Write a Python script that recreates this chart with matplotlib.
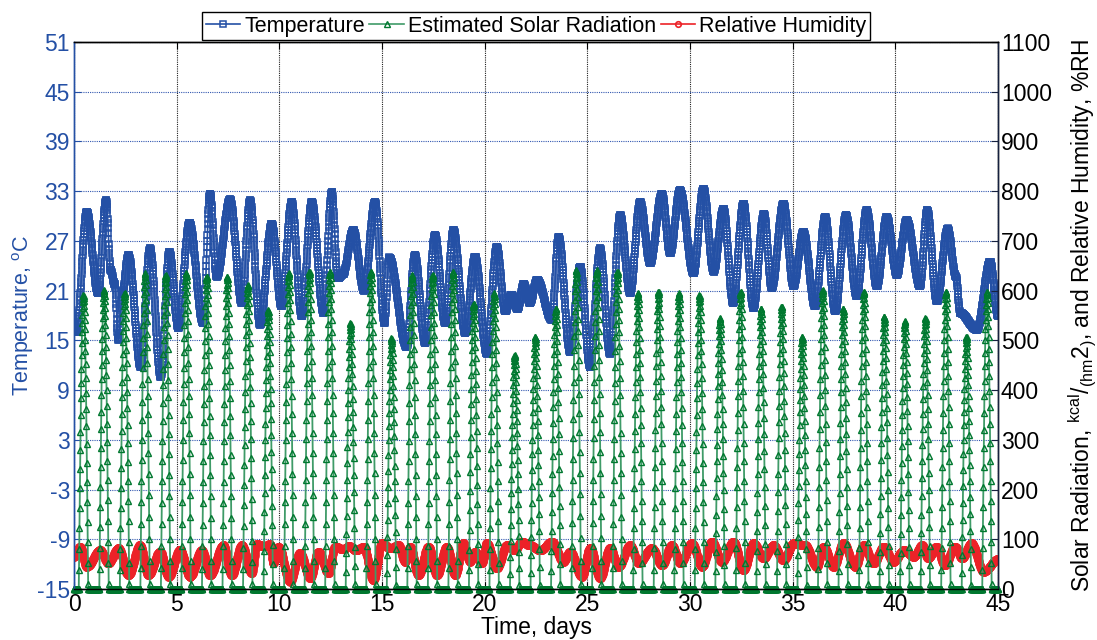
import numpy as np
import matplotlib
matplotlib.use("Agg")
import matplotlib.pyplot as plt
from matplotlib.lines import Line2D

plt.rcParams['font.family'] = ['Liberation Sans', 'DejaVu Sans']
plt.rcParams['mathtext.fontset'] = 'custom'
plt.rcParams['mathtext.rm'] = 'Liberation Sans'
plt.rcParams['mathtext.it'] = 'Liberation Sans:italic'
plt.rcParams['axes.unicode_minus'] = False

# ---- data -------------------------------------------------------------
# temperature turning points (day, degC)
temp_days = [0.00, 0.12, 0.62, 1.17, 1.56, 1.78, 1.98, 2.16, 2.35, 2.65, 3.25, 3.70,
             4.22, 4.64, 5.08, 5.62, 6.28, 6.62, 6.95, 7.60, 8.17, 8.57, 9.06, 9.63,
             10.10, 10.60, 11.09, 11.58, 12.15, 12.55, 12.85, 13.10, 13.60, 14.12,
             14.66, 15.12, 15.35, 16.20, 16.60, 17.10, 17.58, 18.07, 18.48, 19.05,
             19.53, 20.10, 20.59, 21.00, 21.30, 21.60, 21.90, 22.20, 22.55, 23.27,
             23.60, 24.16, 24.65, 25.13, 25.62, 26.10, 26.60, 27.08, 27.57, 28.06,
             28.63, 29.03, 29.51, 30.17, 30.65, 31.15, 31.63, 32.10, 32.60, 33.09,
             33.60, 33.98, 34.55, 35.04, 35.52, 36.09, 36.58, 37.07, 37.60, 38.12,
             38.60, 39.10, 39.58, 40.07, 40.55, 41.20, 41.55, 42.02, 42.55, 42.95,
             43.16, 43.97, 44.62, 45.00]
temp_vals = [17.0, 16.0, 30.5, 20.7, 31.9, 23.5, 21.8, 15.0, 20.7, 25.3, 11.8, 26.1,
             10.6, 25.7, 16.5, 29.2, 17.1, 32.7, 22.7, 32.0, 19.5, 31.9, 16.9, 29.1,
             19.1, 31.7, 17.9, 31.7, 18.3, 32.9, 22.5, 23.0, 28.3, 21.0,
             31.7, 17.1, 25.0, 14.2, 25.3, 14.7, 27.7, 17.1, 28.3, 15.9,
             25.1, 13.4, 26.3, 18.5, 20.5, 18.8, 21.8, 19.5, 22.3, 17.5,
             27.5, 13.6, 23.9, 11.8, 26.1, 13.4, 30.1, 20.7, 31.7, 24.3,
             32.7, 25.5, 33.1, 23.1, 33.3, 23.3, 30.9, 19.5, 31.5, 18.9,
             30.3, 21.3, 31.5, 21.5, 28.1, 19.1, 29.9, 18.5, 30.1, 20.3,
             30.7, 21.5, 29.9, 22.9, 29.5, 21.5, 30.7, 19.7, 28.5, 22.7,
             18.3, 16.3, 24.5, 17.9]

# daily peak of estimated solar radiation, kcal/(h m^2), days 0..44
solar_peak = [591, 601, 595, 635, 631, 635, 628, 628, 611, 561,
              635, 638, 638, 534, 638, 504, 631, 631, 638, 574,
              595, 470, 507, 564, 641, 641, 638, 595, 598, 595,
              591, 544, 598, 564, 568, 507, 601, 564, 598, 548,
              538, 544, 598, 507, 598]

# relative humidity turning points (day, %RH)
rh_days = [0.00, 0.29, 0.62, 1.27, 1.67, 2.16, 2.65, 3.21, 3.62, 4.19, 4.60, 5.16,
           5.65, 6.22, 6.62, 7.27, 7.68, 8.17, 8.65, 8.90, 9.25, 9.55, 9.70, 9.95,
           10.52, 11.00, 11.50, 11.90, 12.39, 12.71, 13.10, 13.40, 13.70, 14.10,
           14.58, 14.99, 15.40, 15.80, 16.12, 16.37, 16.77, 17.26, 17.67, 18.15,
           18.56, 18.96, 19.29, 19.53, 19.86, 20.10, 20.59, 21.08, 21.45, 21.80,
           22.20, 22.70, 23.27, 23.83, 24.16, 24.73, 25.13, 25.62, 26.10, 26.51,
           27.08, 27.49, 28.14, 28.63, 29.11, 29.52, 30.09, 30.58, 31.06, 31.55,
           32.11, 32.60, 33.09, 33.58, 34.06, 34.55, 35.04, 35.60, 36.17, 36.50,
           36.99, 37.47, 38.04, 38.45, 38.94, 39.43, 39.91, 40.40, 40.90, 41.30,
           41.60, 42.00, 42.40, 42.90, 43.25, 43.70, 44.30, 45.00]
rh_vals = [65, 85, 45, 78, 52, 82, 28, 88, 28, 75, 25, 78,
           25, 78, 28, 88, 28, 88, 32, 90, 86, 90, 52, 85,
           15, 72, 22, 75, 32, 85, 80, 86, 78, 84,
           18, 92, 82, 88, 55, 85, 28, 85, 28, 85,
           28, 92, 55, 75, 52, 92, 42, 88, 78, 95,
           88, 78, 95, 55, 75, 25, 82, 22, 82, 45,
           88, 52, 82, 48, 88, 52, 92, 45, 95, 55,
           95, 38, 92, 62, 88, 58, 92, 88, 45, 85,
           45, 92, 45, 88, 52, 85, 55, 78, 65, 88,
           62, 85, 48, 85, 62, 92, 35, 60]

series_names = ['Temperature', 'Estimated Solar Radiation', 'Relative Humidity']
x_ticks = list(range(0, 46, 5))
temp_ticks = list(range(-15, 52, 6))
right_ticks = list(range(0, 1101, 100))

# ---- sampled series (15-minute logging interval) ------------------------
t = np.arange(0, 45 + 1e-9, 1 / 96)


def smooth_between(kt, kv, tt):
    kt = np.asarray(kt, float)
    kv = np.asarray(kv, float)
    i = np.clip(np.searchsorted(kt, tt, side='right') - 1, 0, len(kt) - 2)
    f = np.clip((tt - kt[i]) / (kt[i + 1] - kt[i]), 0, 1)
    w = (1 - np.cos(np.pi * f)) / 2
    return kv[i] + (kv[i + 1] - kv[i]) * w


temperature = smooth_between(temp_days, temp_vals, t)
humidity = smooth_between(rh_days, rh_vals, t)

day_idx = np.clip(np.floor(t).astype(int), 0, len(solar_peak) - 1)
phase = t - np.floor(t)
noon, half_day = 0.46, 0.23
arg = (phase - noon) / half_day
solar = np.where(np.abs(arg) < 1,
                 np.asarray(solar_peak, float)[day_idx] * np.cos(np.pi * arg / 2), 0.0)

# ---- figure -----------------------------------------------------------
blue = '#2450a5'
green_line = '#3f9b68'
green_mk = '#00782f'
red = '#ec2228'
FS = 16.5

fig = plt.figure(figsize=(10.97, 6.40), dpi=100)
ax1 = fig.add_axes([0.0675, 0.0797, 0.8423, 0.8547])
ax2 = ax1.twinx()

ax1.plot(t, temperature, color=blue, lw=1.2, marker='s', ms=5.0,
         mfc='none', mec=blue, mew=1.1)
ax2.plot(t, humidity, color=red, lw=2.6, marker='o', ms=4.6,
         mfc='none', mec=red, mew=1.5)
ax2.plot(t, solar, color=green_line, lw=1.3, marker='^', ms=5.0,
         mfc='none', mec=green_mk, mew=1.0, clip_on=False)

ax1.set_xlim(0, 45)
ax1.set_ylim(-15, 51)
ax2.set_ylim(0, 1100)
ax1.set_xticks(x_ticks)
ax1.set_yticks(temp_ticks)
ax2.set_yticks(right_ticks)

ax1.set_axisbelow(True)
ax1.yaxis.grid(True, linestyle=(0, (1, 1)), color='#3358b0', lw=0.8)
ax1.xaxis.grid(True, linestyle=(0, (1, 1)), color='#222222', lw=0.8)

ax1.tick_params(axis='x', direction='in', length=5, top=True, labelsize=FS,
                colors='black', pad=3)
ax1.tick_params(axis='y', direction='in', length=5, labelsize=FS,
                colors=blue, labelcolor=blue, pad=3)
ax2.tick_params(axis='y', direction='in', length=5, labelsize=FS,
                colors='#16213f', labelcolor='black', pad=2)

ax1.spines['left'].set_color(blue)
ax2.spines['left'].set_color(blue)
ax2.spines['right'].set_color('#16213f')
for ax in (ax1, ax2):
    ax.spines['top'].set_color('black')
    ax.spines['bottom'].set_color('black')
    for s in ax.spines.values():
        s.set_linewidth(1.0)

ax1.set_xlabel('Time, days', fontsize=FS, labelpad=0)
ax1.set_ylabel('Temperature, $^{\\rm o}$C', fontsize=15.5, color=blue)
ax1.yaxis.set_label_coords(-0.041, 0.50)
ax2.set_ylabel(r'Solar Radiation, $^{\rm kcal}/_{\rm (hm}2_{\rm )}$, '
               r'and Relative Humidity, %RH', fontsize=16.5)
ax2.yaxis.set_label_coords(1.0745, 0.50)

# legend keys: thin line with one small marker each
keys = [
    Line2D([], [], color=blue, lw=1.2, marker='s', ms=5, mfc='none', mec=blue, mew=1.1),
    Line2D([], [], color=green_line, lw=1.2, marker='^', ms=5, mfc='none', mec=green_mk, mew=1.0),
    Line2D([], [], color=red, lw=1.2, marker='o', ms=4, mfc='none', mec=red, mew=1.2),
]
leg = ax2.legend(handles=keys, labels=series_names, loc='lower center',
                 bbox_to_anchor=(0.5, 1.0), ncol=3, fontsize=15.5, frameon=True,
                 fancybox=False, edgecolor='black', framealpha=1,
                 borderaxespad=0.1, handlelength=1.6, handletextpad=0.2,
                 columnspacing=0.2, borderpad=0.15, numpoints=1)
leg.get_frame().set_linewidth(1.0)

fig.savefig('out.png', dpi=100)
